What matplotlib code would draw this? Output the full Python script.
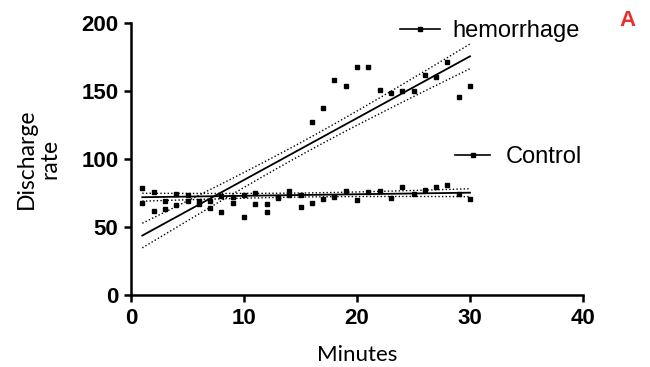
import numpy as np
import matplotlib
matplotlib.use("Agg")
import matplotlib.pyplot as plt
from matplotlib.lines import Line2D

# === Data ===
minutes = np.arange(1, 31)
hemorrhage = [68, 62, 63.5, 66.4, 69, 67.2, 63.7, 61.3, 68, 57,
              67, 61.3, 71.6, 73.5, 65, 127, 137.7, 157.8, 154, 167.6,
              167.6, 150.5, 148.6, 150, 150, 162, 160, 171, 145.8, 154]
control = [78.4, 76, 69.1, 74.3, 73.8, 69.1, 69.1, 73, 72, 73.5,
           74.8, 67, 71.8, 76.7, 73.5, 67.6, 70.6, 71.8, 76.5, 69.6,
           75.7, 76.5, 71.6, 79.2, 74, 77.2, 79.7, 80.6, 74, 70.3]
x_ticks = [0, 10, 20, 30, 40]
y_ticks = [0, 50, 100, 150, 200]
# band multipliers chosen so the dotted bands match the reference width
band_mult = {'hemorrhage': 1.15, 'control': 2.3}


def fit_with_band(x, y, t):
    # linear regression + confidence band of the mean
    x = np.asarray(x, float)
    y = np.asarray(y, float)
    slope, icept = np.polyfit(x, y, 1)
    resid = y - (slope * x + icept)
    s = np.sqrt(np.sum(resid ** 2) / (len(x) - 2))
    xs = np.linspace(x.min(), x.max(), 100)
    ys = slope * xs + icept
    se = s * np.sqrt(1 / len(x) + (xs - x.mean()) ** 2 / np.sum((x - x.mean()) ** 2))
    return xs, ys, ys - t * se, ys + t * se


fig = plt.figure(figsize=(6.5, 3.67), dpi=100)
ax = fig.add_axes([131 / 650, 72 / 367, 452 / 650, 272 / 367])

for name, series in (('hemorrhage', hemorrhage), ('control', control)):
    ax.plot(minutes, series, 's', color='black', markersize=2.4, zorder=3)
    xs, ys, lo, hi = fit_with_band(minutes, series, band_mult[name])
    ax.plot(xs, ys, color='black', lw=1.3)
    ax.plot(xs, lo, color='black', lw=1.0, ls=(0, (1, 1.6)))
    ax.plot(xs, hi, color='black', lw=1.0, ls=(0, (1, 1.6)))

ax.set_xlim(0, 40)
ax.set_ylim(0, 200)
ax.set_xticks(x_ticks)
ax.set_yticks(y_ticks)
for side in ('top', 'right'):
    ax.spines[side].set_visible(False)
for side in ('left', 'bottom'):
    ax.spines[side].set_linewidth(1.8)
ax.tick_params(direction='out', length=5, width=1.8, pad=4)
for lab in ax.get_xticklabels() + ax.get_yticklabels():
    lab.set_fontfamily('Liberation Sans')
    lab.set_fontweight('bold')
    lab.set_fontsize(16)

ax.set_xlabel("Minutes", fontfamily='Lato', fontsize=16, labelpad=12)
ax.set_ylabel("Discharge\nrate", fontfamily='Lato', fontsize=16.5, labelpad=15,
              linespacing=1.15)

# --- the two legend entries sit in different places ---
handle = Line2D([], [], color='black', lw=1.2, marker='s', markersize=2.4)
fig.legend([handle], ["hemorrhage"], loc='center left',
           bbox_to_anchor=(400 / 650, 1 - 31 / 367), frameon=False,
           borderpad=0, borderaxespad=0, handlelength=1.7,
           handletextpad=0.5, numpoints=1,
           prop={'family': 'Liberation Sans', 'size': 17})
fig.legend([handle], ["Control"], loc='center left',
           bbox_to_anchor=(455 / 650, 1 - 157 / 367), frameon=False,
           borderpad=0, borderaxespad=0, handlelength=1.5,
           handletextpad=0.65, numpoints=1,
           prop={'family': 'Liberation Sans', 'size': 17})

fig.text(627 / 650, 1 - 20 / 367, "A", color='#e8302c', fontsize=16,
         fontweight='bold', fontfamily='Liberation Sans', ha='center', va='center')

fig.savefig("out.png", dpi=100)
